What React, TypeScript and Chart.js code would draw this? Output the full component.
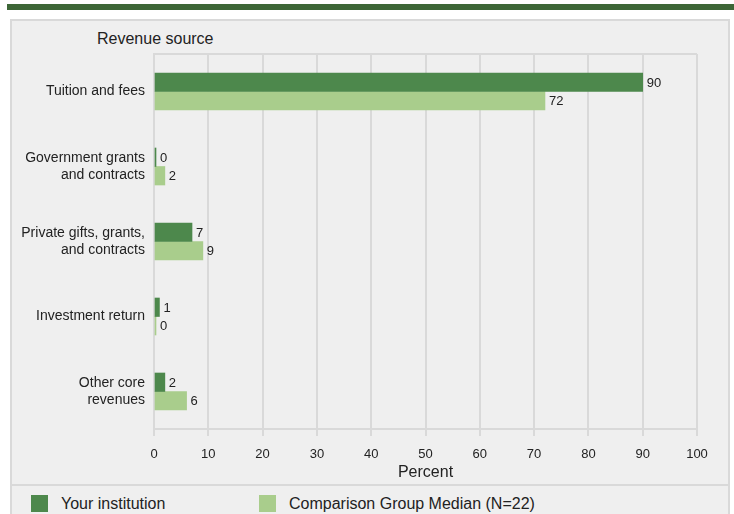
import React, { useEffect, useRef } from "react";
import { Chart, registerables } from "chart.js";

Chart.register(...registerables);

const categories: string[][] = [
  ["Tuition and fees"],
  ["Government grants", "and contracts"],
  ["Private gifts, grants,", "and contracts"],
  ["Investment return"],
  ["Other core", "revenues"],
];
const yourInstitution: number[] = [90, 0, 7, 1, 2];
const comparisonMedian: number[] = [72, 2, 9, 0, 6];
const seriesLabels: string[] = ["Your institution", "Comparison Group Median (N=22)"];
const seriesColors: string[] = ["#4d884c", "#a9cd8c"];
const xTicks = { min: 0, max: 100, step: 10 };

const FONT = "'Liberation Sans', Arial, Helvetica, sans-serif";
const TEXT = "#222";
const GRID = "#d9d9d9";

const framePlugin = {
  id: "frame",
  beforeDatasetsDraw(chart: any) {
    const { ctx, chartArea } = chart;
    ctx.save();
    ctx.strokeStyle = GRID;
    ctx.lineWidth = 2;
    ctx.beginPath();
    ctx.moveTo(chartArea.left, chartArea.top);
    ctx.lineTo(chartArea.right, chartArea.top);
    ctx.stroke();
    ctx.restore();
  },
};

const valueLabels = {
  id: "valueLabels",
  afterDatasetsDraw(chart: any) {
    const { ctx } = chart;
    ctx.save();
    ctx.font = `13px ${FONT}`;
    ctx.fillStyle = TEXT;
    ctx.textBaseline = "middle";
    ctx.textAlign = "left";
    chart.data.datasets.forEach((ds: any, i: number) => {
      const meta = chart.getDatasetMeta(i);
      meta.data.forEach((el: any, j: number) => {
        ctx.fillText(String(ds.data[j]), el.x + 4, el.y + 1);
      });
    });
    ctx.restore();
  },
};

export default function App() {
  const ref = useRef<HTMLCanvasElement | null>(null);

  useEffect(() => {
    if (!ref.current) return;
    const chart = new Chart(ref.current, {
      type: "bar",
      data: {
        labels: categories as any,
        datasets: [
          {
            label: seriesLabels[0],
            data: yourInstitution,
            backgroundColor: seriesColors[0],
            barThickness: 18.5,
            minBarLength: 2,
          },
          {
            label: seriesLabels[1],
            data: comparisonMedian,
            backgroundColor: seriesColors[1],
            barThickness: 18.5,
            minBarLength: 2,
          },
        ],
      },
      options: {
        indexAxis: "y",
        responsive: false,
        animation: false,
        layout: { padding: { top: 54, right: 37, left: 0, bottom: 0 } },
        plugins: {
          legend: { display: false },
          tooltip: { enabled: false },
        },
        scales: {
          x: {
            min: xTicks.min,
            max: xTicks.max,
            afterFit: (s: any) => {
              s.height = 56;
            },
            ticks: {
              stepSize: xTicks.step,
              color: TEXT,
              font: { family: FONT, size: 13 },
              padding: 11,
            },
            grid: { color: GRID, lineWidth: 2, tickLength: 7 },
            border: { display: true, color: GRID, width: 2 },
            title: {
              display: true,
              text: "Percent",
              color: TEXT,
              font: { family: FONT, size: 16 },
              padding: { top: 0, bottom: 3 },
            },
          },
          y: {
            afterFit: (s: any) => {
              s.width = 154;
            },
            ticks: {
              color: TEXT,
              font: { family: FONT, size: 14, lineHeight: 1.2 },
              padding: 1,
            },
            grid: { display: false },
            border: { display: true, color: GRID, width: 2 },
          },
        },
      },
      plugins: [framePlugin, valueLabels],
    });
    return () => chart.destroy();
  }, []);

  return (
    <div
      style={{
        position: "fixed",
        left: 0,
        top: 0,
        width: 734,
        height: 514,
        overflow: "hidden",
        background: "#fff",
        fontFamily: FONT,
        color: TEXT,
      }}
    >
      <div style={{ position: "absolute", left: 7, top: 4, width: 727, height: 6, background: "#3d6637" }} />
      <div
        style={{
          position: "absolute",
          left: 10,
          top: 19,
          width: 716,
          height: 520,
          background: "#efefef",
          border: `2px solid ${GRID}`,
        }}
      />
      <div style={{ position: "absolute", left: 10, top: 484, width: 720, height: 2, background: GRID }} />
      <div style={{ position: "absolute", left: 97, top: 30, fontSize: 16, lineHeight: "18px" }}>Revenue source</div>
      <canvas ref={ref} width={734} height={485} style={{ position: "absolute", left: 0, top: 0 }} />
      {seriesLabels.map((lab, i) => (
        <div key={lab}>
          <div
            style={{
              position: "absolute",
              left: i === 0 ? 31 : 259,
              top: 495,
              width: 17,
              height: 17,
              background: seriesColors[i],
            }}
          />
          <div
            style={{
              position: "absolute",
              left: i === 0 ? 61 : 289,
              top: 495,
              fontSize: 16,
              lineHeight: "18px",
              whiteSpace: "nowrap",
            }}
          >
            {lab}
          </div>
        </div>
      ))}
    </div>
  );
}
